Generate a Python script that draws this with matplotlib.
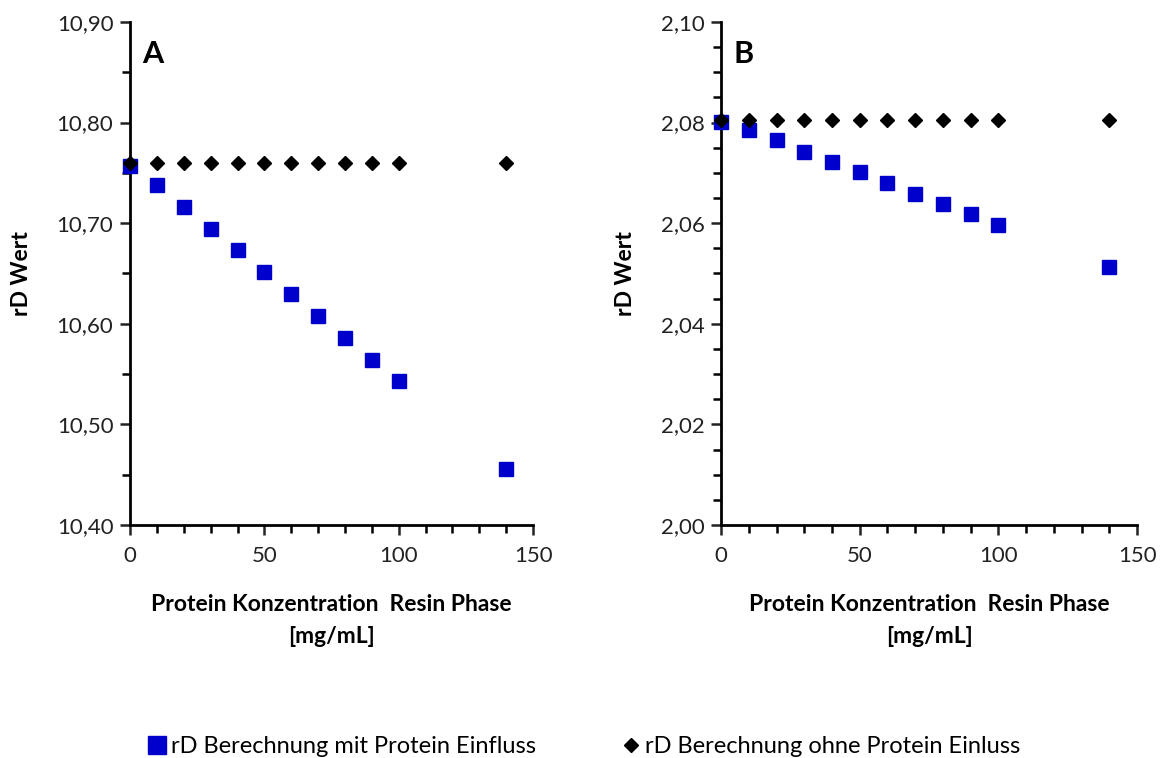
import matplotlib.pyplot as plt
from matplotlib.ticker import FuncFormatter, MultipleLocator
from matplotlib.lines import Line2D

plt.rcParams['font.family'] = ['Lato', 'DejaVu Sans']

# protein concentration in resin phase [mg/mL]
conc = [0, 10, 20, 30, 40, 50, 60, 70, 80, 90, 100, 140]

# panel A
a_with = [10.757, 10.738, 10.716, 10.694, 10.673, 10.651, 10.630, 10.608, 10.586, 10.564, 10.543, 10.456]
a_without = [10.76] * 12

# panel B
b_with = [2.0801, 2.0785, 2.0765, 2.0742, 2.0722, 2.0702, 2.0680, 2.0658, 2.0638, 2.0618, 2.0596, 2.0513]
b_without = [2.0805] * 12

label_with = 'rD Berechnung mit Protein Einfluss'
label_without = 'rD Berechnung ohne Protein Einluss'
blue = '#0000CC'

fig = plt.figure(figsize=(11.65, 7.58), dpi=100)
axA = fig.add_axes([0.1116, 0.3074, 0.346, 0.6636])
axB = fig.add_axes([0.619, 0.3074, 0.357, 0.6636])


def style(ax, y_with, y_without, ylim, major, minor, letter):
    ax.plot(conc, y_with, 's', color=blue, markersize=10, zorder=3, clip_on=False)
    ax.plot(conc, y_without, 'D', color='black', markersize=7.5, zorder=4, clip_on=False)
    ax.set_xlim(0, 150)
    ax.set_ylim(*ylim)
    ax.xaxis.set_major_locator(MultipleLocator(50))
    ax.xaxis.set_minor_locator(MultipleLocator(10))
    ax.yaxis.set_major_locator(MultipleLocator(major))
    ax.yaxis.set_minor_locator(MultipleLocator(minor))
    ax.yaxis.set_major_formatter(FuncFormatter(lambda v, p: f'{v:.2f}'.replace('.', ',')))
    for s in ['top', 'right']:
        ax.spines[s].set_visible(False)
    for s in ['left', 'bottom']:
        ax.spines[s].set_linewidth(2)
    ax.tick_params(which='both', direction='out', width=1.8, color='black')
    ax.tick_params(which='major', length=7, labelsize=16, colors='#222222', pad=5)
    ax.tick_params(which='minor', length=6)
    ax.tick_params(axis='x', which='major', pad=8)
    ax.set_ylabel('rD Wert', fontsize=16.5, fontweight='bold', labelpad=18)
    ax.set_xlabel('Protein Konzentration  Resin Phase\n[mg/mL]', fontsize=16.5,
                  fontweight='bold', labelpad=20, linespacing=1.65)
    ax.text(0.03, 0.965, letter, transform=ax.transAxes, fontsize=22,
            fontweight='bold', va='top', ha='left')


style(axA, a_with, a_without, (10.40, 10.90), 0.1, 0.05, 'A')
style(axB, b_with, b_without, (2.00, 2.10), 0.02, 0.005, 'B')

handles = [Line2D([], [], ls='none', marker='s', color=blue, markersize=13),
           Line2D([], [], ls='none', marker='D', color='black', markersize=7)]
fig.legend(handles, [label_with, label_without], loc='lower center',
           bbox_to_anchor=(0.5, -0.027), ncol=2, frameon=False, fontsize=17,
           handletextpad=0.1, columnspacing=3.5, handlelength=1.0)

fig.savefig('out.png', dpi=100)
